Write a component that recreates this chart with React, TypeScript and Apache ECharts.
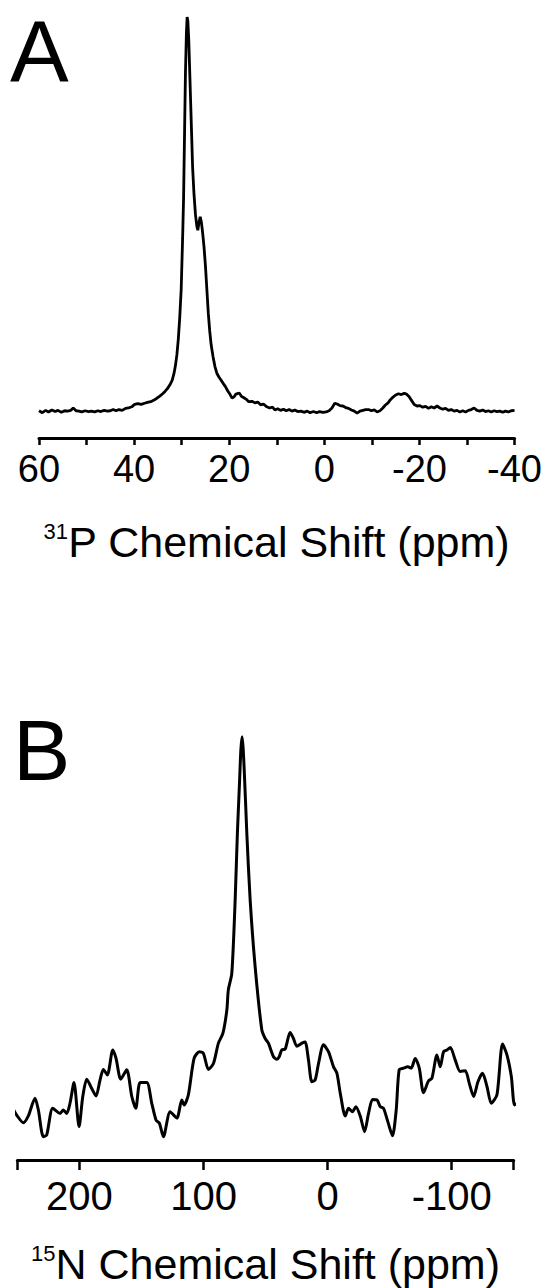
import React, { useEffect, useRef } from "react";
import * as echarts from "echarts";

// Panel A: 31P spectrum (chemical shift ppm, relative intensity)
const ppmA = [
  60.0, 59.3, 58.6, 58.0, 57.3, 56.6, 56.0, 55.3, 54.6, 54.0, 53.3, 52.8, 52.2, 51.6, 51.0, 50.3,
  49.6, 49.0, 48.3, 47.6, 47.0, 46.3, 45.6, 45.0, 44.4, 43.8, 43.2, 42.5, 41.8, 41.2, 40.5, 39.9,
  39.2, 38.5, 37.8, 37.2, 36.5, 35.8, 35.3, 34.6, 34.0, 33.5, 33.0, 32.5, 32.0, 31.6, 31.3, 31.0,
  30.7, 30.4, 30.1, 29.8, 29.6, 29.4, 29.2, 29.0, 28.85, 28.7, 28.5, 28.3, 28.1, 27.9, 27.7, 27.4,
  27.1, 26.8, 26.6, 26.35, 26.1, 25.85, 25.6, 25.3, 25.0, 24.7, 24.4, 24.1, 23.8, 23.4, 23.0, 22.6,
  22.2, 21.7, 21.2, 20.8, 20.3, 19.8, 19.4, 19.0, 18.6, 17.9, 17.4, 16.9, 16.4, 15.9, 15.2, 14.6,
  14.0, 13.4, 12.8, 12.1, 11.5, 10.9, 10.4, 9.8, 9.2, 8.6, 8.0, 7.4, 6.8, 6.2, 5.6, 4.9,
  4.3, 3.6, 3.0, 2.3, 1.6, 1.0, 0.3, -0.4, -1.0, -1.6, -2.2, -2.7, -3.3, -3.9, -4.5, -5.1,
  -5.7, -6.3, -6.9, -7.5, -8.1, -8.7, -9.3, -9.9, -10.5, -11.1, -11.7, -12.3, -12.8, -13.4, -13.9, -14.4,
  -15.0, -15.6, -16.2, -16.8, -17.3, -17.8, -18.4, -18.9, -19.5, -20.1, -20.7, -21.3, -21.9, -22.5, -23.1, -23.7,
  -24.3, -24.9, -25.5, -26.1, -26.7, -27.3, -27.9, -28.5, -29.1, -29.7, -30.3, -30.9, -31.5, -32.1, -32.7, -33.3,
  -33.9, -34.5, -35.1, -35.7, -36.3, -36.9, -37.5, -38.1, -38.7, -39.3, -40.0,
];
const intA = [
  0.3, -0.2, 0.4, 0.0, 0.5, 0.1, 0.4, -0.1, 0.3, 0.2, 0.4, 1.0, 0.3, 0.2, 0.0, 0.3,
  0.1, 0.2, 0.0, 0.3, 0.1, 0.4, 0.2, 0.3, 0.6, 0.3, 0.6, 0.4, 0.9, 1.0, 1.3, 1.9,
  2.1, 1.9, 2.2, 2.4, 2.6, 3.0, 3.4, 4.0, 4.6, 5.2, 5.9, 6.8, 8.0, 9.8, 11.8, 14.5,
  18.5, 24, 31, 44, 54, 70, 86, 96, 100, 99, 94, 86, 78, 70, 62, 55,
  50, 47, 46, 48, 49.4, 48, 45.5, 41.8, 37, 31, 25, 20.5, 17, 14, 11.5, 9.8,
  8.9, 8.0, 7.1, 6.4, 5.3, 4.4, 3.5, 3.8, 4.5, 4.8, 3.9, 3.6, 3.2, 2.6, 2.7, 2.3,
  2.5, 1.8, 2.0, 1.3, 1.0, 1.2, 0.5, 0.8, 0.4, 0.7, 0.3, 0.6, 0.2, 0.5, 0.1, 0.2,
  -0.1, 0.2, -0.2, 0.1, -0.2, 0.1, -0.1, 0.0, 0.3, 1.0, 2.2, 2.0, 1.6, 1.5, 1.1, 0.9,
  0.5, 0.2, -0.3, 0.2, 0.4, 0.6, 0.6, 0.3, 0.5, 0.0, 0.3, 1.0, 1.7, 2.3, 3.1, 3.7,
  4.3, 4.6, 4.4, 4.7, 4.5, 3.9, 2.8, 1.9, 1.5, 1.6, 1.2, 1.4, 0.9, 1.3, 1.0, 1.5,
  1.0, 0.7, 0.9, 0.4, 0.6, 0.2, 0.4, 0.0, 0.3, 0.0, 0.4, 0.6, 1.0, 0.4, 0.2, 0.5,
  0.1, 0.3, 0.0, 0.3, 0.1, 0.2, -0.1, 0.2, 0.0, 0.3, 0.4,
];

// Panel B: 15N spectrum
const ppmB = [
  253.3, 250.6, 245.2, 241.2, 235.8, 233.1, 229.1, 226.4, 221.5, 215.6, 213.0, 210.2, 207.6, 204.4, 200.3, 197.3,
  194.1, 190.1, 186.6, 183.4, 180.7, 177.5, 173.1, 170.5, 166.7, 161.9, 157.8, 154.6, 151.1, 145.7, 141.7, 138.2,
  135.6, 132.3, 126.9, 121.5, 117.5, 115.6, 112.2, 107.6, 103.3, 100.1, 96.0, 92.0, 88.0, 84.4, 81.2, 80.0,
  77.2, 74.5, 72.7, 71.0, 69.9, 68.9, 67.3, 65.1, 62.4, 58.4, 53.0, 50.3, 47.7, 43.6, 40.9, 39.0,
  36.9, 34.2, 30.2, 27.5, 24.8, 20.7, 18.1, 15.4, 12.7, 10.0, 7.3, 3.3, -0.7, -4.8, -7.5, -10.2,
  -14.2, -16.9, -20.1, -22.8, -26.3, -29.8, -33.0, -36.2, -39.8, -42.4, -45.1, -48.6, -52.3, -55.3, -57.7, -61.2,
  -64.7, -67.4, -70.6, -73.9, -77.3, -81.4, -84.1, -88.1, -90.8, -93.5, -96.2, -98.9, -102.9, -106.9, -111.0, -114.2,
  -117.7, -121.2, -124.9, -128.5, -131.9, -136.5, -141.0, -144.6, -148.1, -150.7, -153.4,
];
const intB = [
  12.0, 10.6, 8.8, 10.4, 14.6, 11.8, 5.5, 5.9, 12.2, 11.0, 11.8, 11.0, 13.4, 18.3, 7.9, 15.0,
  19.1, 16.9, 15.1, 18.9, 21.4, 20.1, 26.0, 24.0, 19.1, 21.3, 15.0, 12.2, 18.3, 18.3, 13.4, 9.4,
  8.7, 5.5, 11.4, 9.9, 14.2, 13.0, 15.4, 24.0, 25.6, 25.2, 21.4, 22.8, 27.6, 29.9, 35.4, 40.2,
  44.1, 61.4, 77.2, 89.0, 96.9, 100, 92.9, 77.2, 61.4, 45.7, 30.7, 28.7, 27.6, 24.4, 23.8, 24.4,
  26.0, 26.2, 30.1, 28.7, 26.9, 27.6, 27.9, 23.6, 18.5, 18.9, 22.8, 27.2, 25.6, 22.0, 20.5, 15.8,
  10.4, 12.2, 11.4, 12.6, 10.4, 6.7, 11.0, 14.3, 14.2, 12.6, 12.2, 9.0, 5.7, 11.8, 21.3, 21.7,
  22.0, 21.7, 24.0, 21.7, 15.9, 18.7, 19.3, 24.8, 22.0, 25.6, 26.0, 26.6, 23.6, 20.9, 21.1, 18.1,
  15.0, 18.5, 20.5, 17.3, 13.4, 15.4, 27.4, 24.8, 19.7, 13.0, 13.5,
];

const ticksB = [250, 200, 100, 0, -100, -150];
const labelsB = [200, 100, 0, -100];

const FONT = "Liberation Sans, Arial, sans-serif";

export default function App() {
  const ref = useRef<HTMLDivElement>(null);
  useEffect(() => {
    if (!ref.current) return;
    const chart = echarts.init(ref.current, undefined, { renderer: "svg" });
    const axisCommon = {
      type: "value",
      inverse: true,
      splitLine: { show: false },
      axisLine: { onZero: false, lineStyle: { color: "#000", width: 3 } },
      nameLocation: "middle",
    };
    const nameRich = {
      sup: { fontSize: 22, fontFamily: FONT, color: "#000", verticalAlign: "top" },
      main: { fontSize: 43, fontFamily: FONT, color: "#000" },
    };
    chart.setOption({
      animation: false,
      backgroundColor: "#fff",
      grid: [
        { left: 39, right: 27, top: 17, height: 421 },
        { left: 17.4, right: 31.3, top: 736.7, height: 423.3 },
      ],
      xAxis: [
        {
          ...axisCommon,
          gridIndex: 0,
          min: -40,
          max: 60,
          interval: 10,
          axisTick: { length: 7, lineStyle: { color: "#000", width: 2.5 } },
          axisLabel: {
            margin: 12,
            fontSize: 38,
            color: "#000",
            fontFamily: FONT,
            formatter: (v: number) => (v % 20 === 0 ? String(v) : ""),
          },
          name: "{sup|31}{main|P Chemical Shift (ppm)}",
          nameGap: 82,
          nameTextStyle: { rich: nameRich },
        },
        {
          ...axisCommon,
          gridIndex: 1,
          min: -150,
          max: 250,
          axisTick: { length: 10, customValues: ticksB, lineStyle: { color: "#000", width: 2.5 } },
          axisLabel: {
            margin: 16,
            fontSize: 40,
            color: "#000",
            fontFamily: FONT,
            customValues: labelsB,
          },
          name: "{sup|15}{main|N Chemical Shift (ppm)}",
          nameGap: 82,
          nameTextStyle: { rich: nameRich },
        },
      ],
      yAxis: [
        { gridIndex: 0, type: "value", min: -6.6, max: 100, show: false },
        { gridIndex: 1, type: "value", min: 0, max: 100, show: false },
      ],
      series: [
        {
          type: "line",
          xAxisIndex: 0,
          yAxisIndex: 0,
          data: ppmA.map((p, i) => [p, intA[i]]),
          symbol: "none",
          clip: false,
          lineStyle: { color: "#000", width: 2.8 },
        },
        {
          type: "line",
          xAxisIndex: 1,
          yAxisIndex: 1,
          data: ppmB.map((p, i) => [p, intB[i]]),
          symbol: "none",
          smooth: 0.25,
          clip: false,
          lineStyle: { color: "#000", width: 3 },
        },
      ],
      graphic: [
        { type: "text", left: 10, top: 7, style: { text: "A", fontSize: 88, fontFamily: FONT, fill: "#000" } },
        { type: "text", left: 13, top: 707, style: { text: "B", fontSize: 86, fontFamily: FONT, fill: "#000" } },
      ],
    });
    return () => chart.dispose();
  }, []);
  return <div ref={ref} style={{ position: "absolute", left: 0, top: 0, width: 545, height: 1288 }} />;
}
